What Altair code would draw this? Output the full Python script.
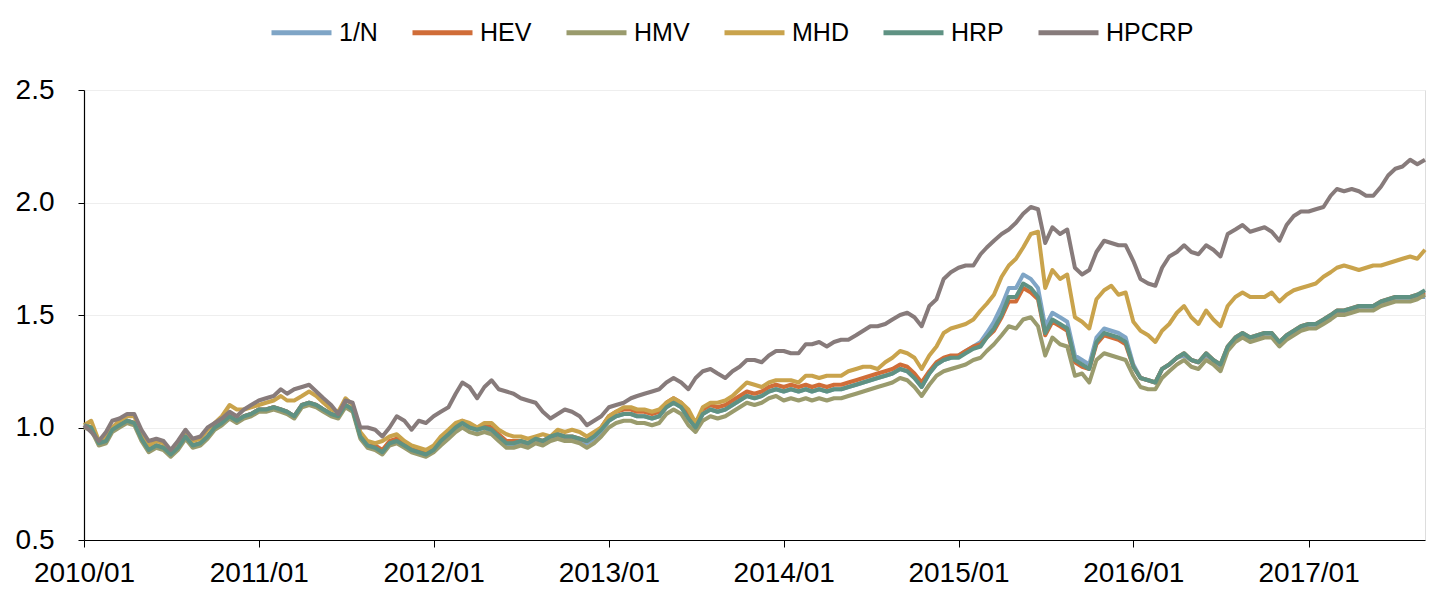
import altair as alt
import pandas as pd
from datetime import date

# semi-monthly sample dates (1st and 16th), 2010/01 .. 2017/09/01
dates = []
for yr in range(2010, 2018):
    for mo in range(1, 13):
        for d in (1, 16):
            dt = date(yr, mo, d)
            if dt <= date(2017, 9, 1):
                dates.append(dt.isoformat())

series_names = ["1/N", "HEV", "HMV", "MHD", "HRP", "HPCRP"]
series_colors = ["#7fa5c6", "#d06d38", "#9a9b6d", "#c9a34c", "#5f9283", "#877b7b"]

one_n = [1.01,1.00,0.93,0.94,0.99,1.01,1.03,1.02,0.95,0.90,
0.92,0.91,0.88,0.91,0.96,0.92,0.93,0.96,1.00,1.02,
1.05,1.03,1.05,1.06,1.08,1.08,1.09,1.08,1.07,1.05,
1.10,1.11,1.10,1.08,1.06,1.05,1.10,1.08,0.96,0.92,
0.91,0.89,0.93,0.94,0.92,0.90,0.89,0.88,0.90,0.94,
0.97,1.00,1.02,1.00,0.99,1.00,0.98,0.95,0.92,0.92,
0.93,0.92,0.94,0.93,0.95,0.96,0.95,0.95,0.94,0.93,
0.95,0.98,1.03,1.05,1.06,1.06,1.05,1.05,1.04,1.05,
1.09,1.11,1.09,1.04,1.00,1.06,1.08,1.07,1.08,1.10,
1.12,1.14,1.13,1.14,1.16,1.17,1.16,1.17,1.16,1.17,
1.16,1.17,1.16,1.17,1.17,1.18,1.19,1.20,1.21,1.22,
1.23,1.24,1.26,1.25,1.22,1.18,1.24,1.28,1.30,1.31,
1.32,1.34,1.36,1.38,1.42,1.47,1.54,1.62,1.62,1.68,
1.66,1.62,1.45,1.51,1.49,1.47,1.32,1.30,1.28,1.40,
1.44,1.43,1.42,1.40,1.28,1.22,1.21,1.20,1.26,1.28,
1.31,1.32,1.30,1.29,1.32,1.30,1.27,1.35,1.39,1.41,
1.40,1.40,1.41,1.41,1.37,1.40,1.42,1.44,1.45,1.45,
1.47,1.49,1.51,1.51,1.52,1.53,1.53,1.53,1.55,1.56,
1.57,1.57,1.57,1.58,1.58]

hev = [1.01,1.00,0.93,0.94,0.99,1.01,1.03,1.02,0.95,0.90,
0.92,0.91,0.88,0.91,0.96,0.92,0.93,0.96,1.00,1.02,
1.05,1.03,1.05,1.06,1.08,1.08,1.09,1.08,1.07,1.05,
1.10,1.11,1.10,1.08,1.06,1.05,1.10,1.08,0.96,0.92,
0.92,0.90,0.94,0.95,0.93,0.91,0.90,0.89,0.91,0.95,
0.98,1.01,1.03,1.01,1.00,1.01,1.00,0.97,0.94,0.94,
0.94,0.93,0.95,0.94,0.96,0.97,0.96,0.96,0.95,0.94,
0.97,1.00,1.05,1.07,1.08,1.08,1.07,1.07,1.06,1.07,
1.11,1.13,1.11,1.06,1.01,1.08,1.10,1.09,1.10,1.12,
1.14,1.16,1.15,1.16,1.18,1.19,1.18,1.19,1.18,1.19,
1.18,1.19,1.18,1.19,1.19,1.20,1.21,1.22,1.23,1.24,
1.25,1.26,1.28,1.27,1.24,1.20,1.25,1.29,1.31,1.32,
1.32,1.34,1.36,1.37,1.40,1.43,1.49,1.56,1.56,1.62,
1.60,1.57,1.41,1.47,1.45,1.43,1.29,1.27,1.26,1.37,
1.41,1.40,1.39,1.37,1.27,1.22,1.21,1.20,1.26,1.28,
1.31,1.33,1.30,1.29,1.33,1.30,1.28,1.36,1.40,1.42,
1.40,1.41,1.42,1.42,1.38,1.41,1.43,1.45,1.46,1.46,
1.48,1.50,1.52,1.52,1.53,1.54,1.54,1.54,1.56,1.57,
1.58,1.58,1.58,1.59,1.60]

hmv = [1.00,0.99,0.92,0.93,0.98,1.00,1.02,1.01,0.94,0.89,
0.91,0.90,0.87,0.90,0.95,0.91,0.92,0.95,0.99,1.01,
1.04,1.02,1.04,1.05,1.07,1.07,1.08,1.07,1.06,1.04,
1.09,1.10,1.09,1.07,1.05,1.04,1.09,1.07,0.95,0.91,
0.90,0.88,0.92,0.93,0.91,0.89,0.88,0.87,0.89,0.92,
0.95,0.98,1.00,0.98,0.97,0.98,0.97,0.94,0.91,0.91,
0.92,0.91,0.93,0.92,0.94,0.95,0.94,0.94,0.93,0.91,
0.93,0.96,1.00,1.02,1.03,1.03,1.02,1.02,1.01,1.02,
1.06,1.08,1.06,1.01,0.98,1.03,1.05,1.04,1.05,1.07,
1.09,1.11,1.10,1.11,1.13,1.14,1.12,1.13,1.12,1.13,
1.12,1.13,1.12,1.13,1.13,1.14,1.15,1.16,1.17,1.18,
1.19,1.20,1.22,1.21,1.18,1.14,1.19,1.23,1.25,1.26,
1.27,1.28,1.30,1.31,1.34,1.37,1.41,1.45,1.44,1.48,
1.49,1.45,1.32,1.40,1.37,1.36,1.23,1.24,1.20,1.30,
1.33,1.32,1.31,1.30,1.23,1.18,1.17,1.17,1.22,1.25,
1.28,1.30,1.27,1.26,1.30,1.28,1.25,1.34,1.38,1.40,
1.38,1.39,1.40,1.40,1.36,1.39,1.41,1.43,1.44,1.44,
1.46,1.48,1.50,1.50,1.51,1.52,1.52,1.52,1.54,1.55,
1.56,1.56,1.56,1.57,1.59]

mhd = [1.01,1.03,0.94,0.96,1.00,1.03,1.05,1.05,0.97,0.92,
0.94,0.93,0.89,0.93,0.98,0.94,0.95,0.99,1.02,1.05,
1.10,1.08,1.08,1.09,1.10,1.11,1.12,1.14,1.12,1.12,
1.14,1.16,1.14,1.11,1.08,1.07,1.13,1.10,0.98,0.94,
0.93,0.94,0.96,0.97,0.94,0.92,0.91,0.90,0.92,0.96,
0.99,1.02,1.03,1.02,1.00,1.02,1.02,0.99,0.97,0.96,
0.96,0.95,0.96,0.97,0.96,0.99,0.98,0.99,0.98,0.96,
0.98,1.00,1.05,1.07,1.09,1.09,1.08,1.08,1.07,1.08,
1.11,1.13,1.11,1.08,1.02,1.09,1.11,1.11,1.12,1.14,
1.17,1.20,1.19,1.18,1.20,1.21,1.21,1.21,1.20,1.23,
1.23,1.22,1.23,1.23,1.23,1.25,1.26,1.27,1.27,1.26,
1.29,1.31,1.34,1.33,1.31,1.26,1.32,1.36,1.42,1.44,
1.45,1.46,1.48,1.52,1.55,1.59,1.67,1.72,1.75,1.80,
1.86,1.87,1.62,1.70,1.66,1.68,1.49,1.47,1.44,1.57,
1.61,1.63,1.59,1.60,1.47,1.43,1.41,1.38,1.43,1.46,
1.51,1.54,1.49,1.46,1.52,1.48,1.45,1.54,1.58,1.60,
1.58,1.58,1.58,1.60,1.56,1.59,1.61,1.62,1.63,1.64,
1.67,1.69,1.71,1.72,1.71,1.70,1.71,1.72,1.72,1.73,
1.74,1.75,1.76,1.75,1.79]

hrp = [1.01,1.00,0.93,0.94,0.99,1.01,1.03,1.02,0.95,0.90,
0.92,0.91,0.88,0.91,0.96,0.92,0.93,0.96,1.00,1.02,
1.05,1.03,1.05,1.06,1.08,1.08,1.09,1.08,1.07,1.05,
1.10,1.11,1.10,1.08,1.06,1.05,1.10,1.08,0.96,0.92,
0.91,0.89,0.93,0.94,0.92,0.90,0.89,0.88,0.90,0.94,
0.97,1.00,1.02,1.00,0.99,1.00,0.99,0.96,0.93,0.93,
0.94,0.93,0.95,0.94,0.96,0.97,0.96,0.96,0.95,0.94,
0.96,0.99,1.03,1.05,1.06,1.06,1.05,1.05,1.04,1.05,
1.09,1.11,1.09,1.04,1.00,1.06,1.08,1.07,1.08,1.10,
1.12,1.14,1.13,1.14,1.16,1.17,1.16,1.17,1.16,1.17,
1.16,1.17,1.16,1.17,1.17,1.18,1.19,1.20,1.21,1.22,
1.23,1.24,1.26,1.25,1.22,1.18,1.24,1.28,1.30,1.31,
1.31,1.33,1.35,1.36,1.40,1.44,1.50,1.58,1.58,1.64,
1.62,1.58,1.42,1.48,1.46,1.44,1.30,1.28,1.26,1.38,
1.42,1.41,1.40,1.38,1.27,1.22,1.21,1.20,1.26,1.28,
1.31,1.33,1.30,1.29,1.33,1.30,1.28,1.36,1.40,1.42,
1.40,1.41,1.42,1.42,1.38,1.41,1.43,1.45,1.46,1.46,
1.48,1.50,1.52,1.52,1.53,1.54,1.54,1.54,1.56,1.57,
1.58,1.58,1.58,1.59,1.61]

hpcrp = [1.01,0.98,0.94,0.98,1.03,1.04,1.06,1.06,0.99,0.94,
0.95,0.94,0.90,0.94,0.99,0.95,0.96,1.00,1.02,1.04,
1.07,1.05,1.08,1.10,1.12,1.13,1.14,1.17,1.15,1.17,
1.18,1.19,1.16,1.13,1.10,1.06,1.12,1.11,1.00,1.00,
0.99,0.96,1.00,1.05,1.03,0.99,1.03,1.02,1.05,1.07,
1.09,1.15,1.20,1.18,1.13,1.18,1.21,1.17,1.16,1.15,
1.13,1.12,1.11,1.07,1.04,1.06,1.08,1.07,1.05,1.01,
1.03,1.05,1.09,1.10,1.11,1.13,1.14,1.15,1.16,1.17,
1.20,1.22,1.20,1.17,1.22,1.25,1.26,1.24,1.22,1.25,
1.27,1.30,1.30,1.29,1.32,1.34,1.34,1.33,1.33,1.37,
1.37,1.38,1.36,1.38,1.39,1.39,1.41,1.43,1.45,1.45,
1.46,1.48,1.50,1.51,1.49,1.45,1.54,1.57,1.66,1.69,
1.71,1.72,1.72,1.77,1.80,1.83,1.86,1.88,1.91,1.95,
1.98,1.97,1.82,1.89,1.86,1.88,1.71,1.68,1.70,1.78,
1.83,1.82,1.81,1.81,1.74,1.66,1.64,1.63,1.71,1.76,
1.78,1.81,1.78,1.77,1.81,1.79,1.76,1.86,1.88,1.90,
1.87,1.88,1.89,1.87,1.83,1.90,1.94,1.96,1.96,1.97,
1.98,2.03,2.06,2.05,2.06,2.05,2.03,2.03,2.07,2.12,
2.15,2.16,2.19,2.17,2.19]

all_values = [one_n, hev, hmv, mhd, hrp, hpcrp]

rows = []
for name, vals in zip(series_names, all_values):
    for d, v in zip(dates, vals):
        rows.append({"date": d, "value": v, "series": name})
df = pd.DataFrame(rows)

year_ticks = [alt.DateTime(year=y, month=1, date=1) for y in range(2010, 2018)]

base = alt.Chart(df).mark_line(strokeWidth=4, strokeJoin="round").encode(
    x=alt.X("date:T",
            scale=alt.Scale(domain=[alt.DateTime(year=2010, month=1, date=1),
                                    alt.DateTime(year=2017, month=9, date=1)], nice=False),
            axis=alt.Axis(values=year_ticks, format="%Y/%m", title=None, grid=False,
                          labelFontSize=28, labelColor="#000000", labelPadding=12,
                          labelFlush=False,
                          tickSize=7, tickColor="#000000", domainColor="#000000",
                          domainWidth=1.2, labelFont="Liberation Sans")),
    y=alt.Y("value:Q",
            scale=alt.Scale(domain=[0.5, 2.5], nice=False, zero=False),
            axis=alt.Axis(values=[0.5, 1.0, 1.5, 2.0, 2.5], format=".1f", title=None,
                          labelFontSize=28, labelColor="#000000", labelPadding=24,
                          labelFlush=False,
                          tickSize=6, tickColor="#000000", domainColor="#000000",
                          domainWidth=1.2, gridColor="#eeeeee", gridWidth=1.2,
                          labelFont="Liberation Sans")),
    color=alt.Color("series:N",
                    scale=alt.Scale(domain=series_names, range=series_colors),
                    legend=alt.Legend(title=None, orient="none", legendX=185, legendY=-90,
                                      direction="horizontal", symbolType="stroke",
                                      symbolStrokeWidth=5, symbolSize=3600,
                                      labelFontSize=25, labelFont="Liberation Sans",
                                      labelColor="#000000", columnPadding=24, labelOffset=5)),
)

layers = [base.transform_filter(alt.datum.series == s) for s in series_names]

chart = alt.layer(*layers).properties(
    width=1341, height=450,
    autosize=alt.AutoSizeParams(type="none"),
    padding={"left": 76, "top": 82, "right": 13, "bottom": 55},
).configure_view(stroke=None).configure(font="Liberation Sans")

chart.save("out.html", embed_options={"renderer": "svg", "actions": False})
